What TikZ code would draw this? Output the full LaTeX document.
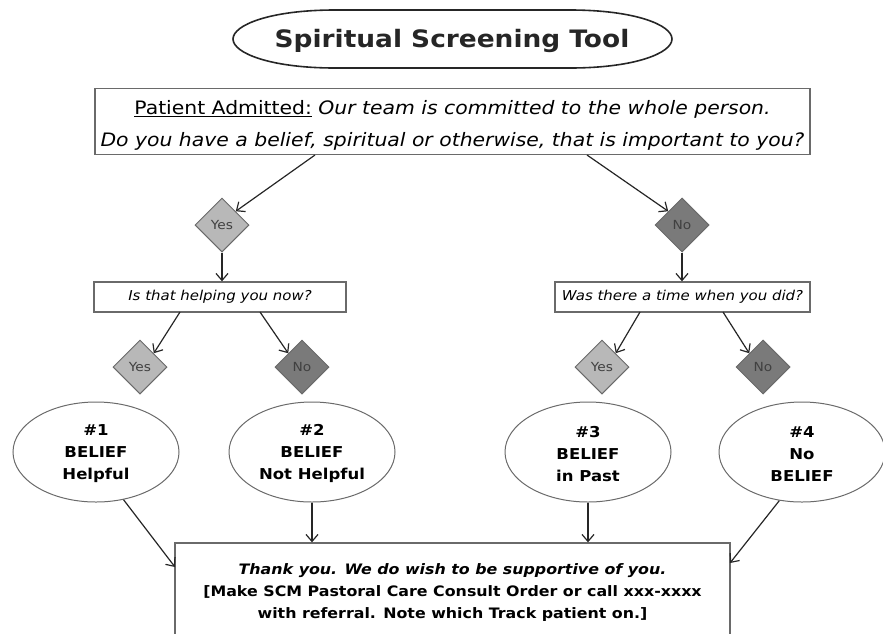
\documentclass[tikz,border=0pt]{standalone}
\usepackage{fontspec}
\setmainfont{DejaVu Sans}[FakeStretch=1.1]
\usetikzlibrary{shapes.geometric,arrows.meta}
\definecolor{lightg}{HTML}{B8B8B8}
\definecolor{darkg}{HTML}{7A7A7A}
\definecolor{edgeg}{HTML}{6A6A6A}
\begin{document}
\begin{tikzpicture}[x=1pt,y=-1pt,
  arr/.style={draw=black!85, line width=1.2pt, -{Straight Barb[length=7pt,width=12pt]}},
  box/.style={rectangle, draw=edgeg, line width=1.3pt, fill=white, inner sep=0pt, align=center},
  dia/.style={diamond, draw=edgeg, line width=1pt, minimum width=54pt, minimum height=54pt, inner sep=0pt, text=black!75, font=\fontsize{12.5}{14}\selectfont},
  yesd/.style={dia, fill=lightg},
  nod/.style={dia, fill=darkg},
  ell/.style={ellipse, draw=edgeg, line width=1pt, minimum width=166pt, minimum height=100pt, inner sep=0pt, align=center, font=\bfseries\fontsize{15}{22}\selectfont}]
\useasboundingbox (0,0) rectangle (883,633);
% title
\draw[line width=1.6pt, black!85] (335,10) -- (570,10) .. controls (635,10) and (672,25) .. (672,39) .. controls (672,53) and (635,68) .. (570,68) -- (335,68) .. controls (270,68) and (233,53) .. (233,39) .. controls (233,25) and (270,10) .. (335,10) -- cycle;
\node[font=\bfseries\fontsize{24}{28}\selectfont, text=black!85] (title) at (452,41) {Spiritual Screening Tool};
% top box
\node[box, minimum width=715pt, minimum height=66pt, font=\fontsize{18.5}{32}\selectfont] (top) at (452.5,121.5)
  {\rule{0pt}{22pt}\underline{Patient Admitted:} \textit{Our team is committed to the whole person.}\\
   \textit{Do you have a belief, spiritual or otherwise, that is important to you?}};
% level 1 diamonds
\node[yesd] (y1) at (222,225) {Yes};
\node[nod] (n1) at (682,225) {No};
% question boxes
\node[box, minimum width=252pt, minimum height=30pt, font=\itshape\fontsize{13.6}{15}\selectfont] (q1) at (220,297) {Is that helping you now?};
\node[box, minimum width=255pt, minimum height=30pt, font=\itshape\fontsize{13.6}{15}\selectfont] (q2) at (682.5,297) {Was there a time when you did?};
% level 2 diamonds
\node[yesd] (y2) at (140,367) {Yes};
\node[nod] (n2) at (302,367) {No};
\node[yesd] (y3) at (602,367) {Yes};
\node[nod] (n3) at (763,367) {No};
% ellipses
\node[ell] (e1) at (96,452) {\rule{0pt}{15pt}\#1\\BELIEF\\Helpful};
\node[ell] (e2) at (312,452) {\rule{0pt}{15pt}\#2\\BELIEF\\Not Helpful};
\node[ell] (e3) at (588,452) {\rule{0pt}{15pt}\#3\\BELIEF\\in Past};
\node[ell] (e4) at (802,452) {\rule{0pt}{15pt}\#4\\No\\BELIEF};
% bottom box
\node[box, minimum width=555pt, minimum height=92pt, font=\bfseries\fontsize{14.4}{22}\selectfont] (bot) at (452.5,589)
  {\rule{0pt}{17pt}\textit{Thank you. We do wish to be supportive of you.}\\
   {[}Make SCM Pastoral Care Consult Order or call xxx-xxxx\\
   with referral. Note which Track patient on.{]}};
% connectors
\coordinate (t1) at (315,155);
\coordinate (t2) at (587,155);
\draw[arr] (t1) -- (y1.north east);
\draw[arr] (t2) -- (n1.north west);
\draw[arr] (y1.south) -- (q1.north -| y1.south);
\draw[arr] (n1.south) -- (q2.north -| n1.south);
\coordinate (q1a) at (180,312);
\coordinate (q1b) at (260,312);
\coordinate (q2a) at (640,312);
\coordinate (q2b) at (723,312);
\draw[arr] (q1a) -- (y2.north east);
\draw[arr] (q1b) -- (n2.north west);
\draw[arr] (q2a) -- (y3.north east);
\draw[arr] (q2b) -- (n3.north west);
\coordinate (b1) at (175,567);
\coordinate (b4) at (730,563);
\draw[arr] (e1.-60) -- (b1);
\draw[arr] (e2.south) -- (bot.north -| e2.south);
\draw[arr] (e3.south) -- (bot.north -| e3.south);
\draw[arr] (e4.-115) -- (b4);
\end{tikzpicture}
\end{document}
